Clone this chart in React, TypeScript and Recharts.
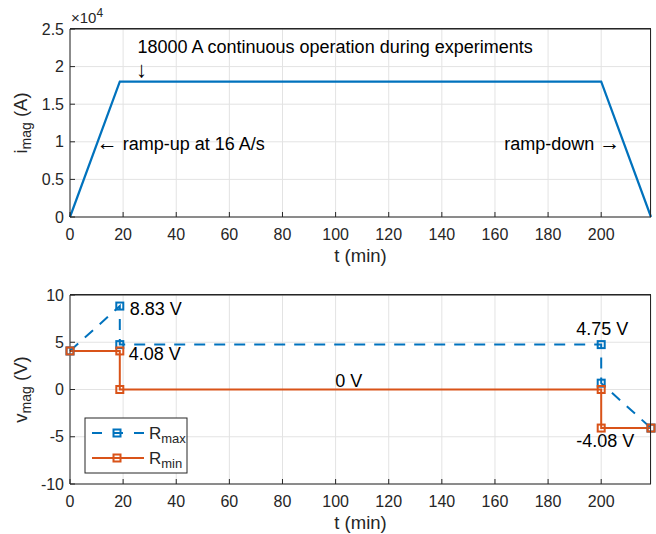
import React from 'react';
import { LineChart, Line, XAxis, YAxis, CartesianGrid, ReferenceDot } from 'recharts';

// ---- data ----
const tCurrent = [0, 18.75, 200, 218.75];
const iCurrent = [0, 18000, 18000, 0];
const tVolt = [0, 18.75, 18.75, 200, 200, 218.75];
const vRmax = [4.08, 8.83, 4.75, 4.75, 0.67, -4.08];
const vRmin = [4.08, 4.08, 0, 0, -4.08, -4.08];
const tTicks = [0, 20, 40, 60, 80, 100, 120, 140, 160, 180, 200];
const iTicks = [0, 5000, 10000, 15000, 20000, 25000];
const vTicks = [-10, -5, 0, 5, 10];
const T_MAX = 218.75;
const I_DOMAIN: [number, number] = [0, 25000];
const V_DOMAIN: [number, number] = [-10, 10];

const currentRows = tCurrent.map((t, k) => ({ t, i: iCurrent[k] }));
const voltRows = tVolt.map((t, k) => ({ t, rmax: vRmax[k], rmin: vRmin[k] }));

// ---- layout ----
const W = 656;
const H = 267;
const Y_AXIS_W = 70;
const X_AXIS_H = 50;
const TOP_AXIS_H = 1;
const M_RIGHT = 5;

// ---- styles ----
const BLUE = '#0072BD';
const ORANGE = '#D95319';
const AX = '#262626';
const GRID = '#e3e3e3';
const FONT = '"Liberation Sans", Arial, Helvetica, sans-serif';
const TICK = { fill: AX, fontSize: 16, fontFamily: FONT };
const ANN = 18;

const note = (text: React.ReactNode, anchor: 'start' | 'middle' | 'end', dx: number, dy: number, size = ANN) =>
  (props: any) => {
    const vb = props.viewBox || {};
    const x = (vb.x ?? 0) + (vb.width ?? 0) / 2 + dx;
    const y = (vb.y ?? 0) + (vb.height ?? 0) / 2 + dy;
    return (
      <text x={x} y={y} textAnchor={anchor} fontSize={size} fontFamily={FONT} fill="#000">
        {text}
      </text>
    );
  };

const yTitle = (main: string, sub: string, unit: string) => (props: any) => {
  const vb = props.viewBox || {};
  const cx = 27;
  const cy = vb.y + vb.height / 2;
  return (
    <text
      transform={`rotate(-90 ${cx} ${cy})`}
      x={cx}
      y={cy}
      textAnchor="middle"
      fontSize={18.5}
      fontFamily={FONT}
      fill={AX}
    >
      {main}
      <tspan fontSize={14} dy={4}>{sub}</tspan>
      <tspan dy={-4}>{' ' + unit}</tspan>
    </text>
  );
};

const xTitle = (props: any) => {
  const vb = props.viewBox || {};
  return (
    <text x={vb.x + vb.width / 2} y={vb.y + 45} textAnchor="middle" fontSize={18.5} fontFamily={FONT} fill={AX}>
      t (min)
    </text>
  );
};

const expLabel = (props: any) => {
  const vb = props.viewBox || {};
  return (
    <text x={vb.x + 1} y={vb.y - 5} fontSize={15} fontFamily={FONT} fill={AX}>
      ×10<tspan fontSize={12} dy={-6}>4</tspan>
    </text>
  );
};

const square = (color: string) => (p: any) => {
  const { cx, cy, index } = p;
  if (cx == null || cy == null) return <g key={`d${index}`} />;
  return (
    <rect key={`d${index}`} x={cx - 3.5} y={cy - 3.5} width={7} height={7} fill="none" stroke={color} strokeWidth={2} />
  );
};

const commonAxes = (yTicks: number[], yDomain: [number, number], fmt?: (v: number) => string, label?: any) => [
  <XAxis
    key="xb"
    dataKey="t"
    type="number"
    domain={[0, T_MAX]}
    ticks={tTicks}
    interval={0}
    height={X_AXIS_H}
    tickSize={-5}
    tickMargin={17}
    tick={TICK}
    stroke={AX}
    label={xTitle}
  />,
  <XAxis
    key="xt"
    xAxisId="top"
    dataKey="t"
    orientation="top"
    type="number"
    domain={[0, T_MAX]}
    ticks={tTicks}
    interval={0}
    height={TOP_AXIS_H}
    tickSize={-5}
    tick={false}
    stroke={AX}
    label={fmt ? expLabel : undefined}
  />,
  <YAxis
    key="yl"
    type="number"
    domain={yDomain}
    ticks={yTicks}
    interval={0}
    width={Y_AXIS_W}
    tickSize={-5}
    tickMargin={11}
    tick={TICK}
    tickFormatter={fmt}
    stroke={AX}
    label={label}
  />,
];

// top and right edges of the axes box (same layout constants as the chart margins)
const Frame = ({ mTop }: { mTop: number }) => {
  const left = Y_AXIS_W;
  const right = W - M_RIGHT;
  const top = mTop + TOP_AXIS_H;
  const bottom = H - X_AXIS_H;
  return (
    <svg width={W} height={H} style={{ position: 'absolute', left: 0, top: 0, pointerEvents: 'none' }}>
      <line x1={left} x2={right} y1={top - 0.5} y2={top - 0.5} stroke={AX} strokeWidth={1} />
      <line x1={right - 0.5} x2={right - 0.5} y1={top - 1} y2={bottom} stroke={AX} strokeWidth={1} />
    </svg>
  );
};

const Legend = () => (
  <svg width={104} height={57} style={{ position: 'absolute', left: 84, top: 417 }}>
    <rect x={1} y={1} width={102} height={55} fill="#fff" stroke={AX} strokeWidth={1} />
    <line x1={8} x2={60} y1={16} y2={16} stroke={BLUE} strokeWidth={2} strokeDasharray="10 11" />
    <rect x={29.5} y={12.5} width={7} height={7} fill="none" stroke={BLUE} strokeWidth={2} />
    <text x={65} y={22} fontSize={17} fontFamily={FONT} fill={AX}>
      R<tspan fontSize={13} dy={4}>max</tspan>
    </text>
    <line x1={8} x2={60} y1={41} y2={41} stroke={ORANGE} strokeWidth={2} />
    <rect x={29.5} y={37.5} width={7} height={7} fill="none" stroke={ORANGE} strokeWidth={2} />
    <text x={65} y={47} fontSize={17} fontFamily={FONT} fill={AX}>
      R<tspan fontSize={13} dy={4}>min</tspan>
    </text>
  </svg>
);

const arrow = (ch: string, size = 21) => <tspan fontSize={size}>{ch}</tspan>;

export default function App() {
  return (
    <div style={{ position: 'absolute', left: 0, top: 0, width: 656, height: 534, background: '#fff', fontFamily: FONT }}>
      <div style={{ position: 'absolute', left: 0, top: 0, width: W, height: H }}>
        <LineChart width={W} height={H} data={currentRows} margin={{ top: 28, right: M_RIGHT, bottom: 0, left: 0 }}>
          <CartesianGrid stroke={GRID} strokeWidth={1} />
          {commonAxes(iTicks, I_DOMAIN, (v: number) => String(v / 10000), yTitle('i', 'mag', '(A)'))}
          <Line dataKey="i" stroke={BLUE} strokeWidth={2.2} dot={false} activeDot={false} isAnimationActive={false} />
          <ReferenceDot x={26.9} y={18000} r={0} fill="none" stroke="none" label={note(arrow('↓', 22), 'middle', 0, -5)} />
          <ReferenceDot
            x={26.9}
            y={18000}
            r={0}
            fill="none"
            stroke="none"
            label={note('18000 A continuous operation during experiments', 'start', -4, -29)}
          />
          <ReferenceDot
            x={10.42}
            y={10000}
            r={0}
            fill="none"
            stroke="none"
            label={note(<>{arrow('←')} ramp-up at 16 A/s</>, 'start', -1, 8)}
          />
          <ReferenceDot
            x={208.33}
            y={10000}
            r={0}
            fill="none"
            stroke="none"
            label={note(<>ramp-down {arrow('→')}</>, 'end', -3, 8)}
          />
        </LineChart>
        <Frame mTop={28} />
      </div>
      <div style={{ position: 'absolute', left: 0, top: 267, width: W, height: H }}>
        <LineChart width={W} height={H} data={voltRows} margin={{ top: 27, right: M_RIGHT, bottom: 0, left: 0 }}>
          <CartesianGrid stroke={GRID} strokeWidth={1} />
          {commonAxes(vTicks, V_DOMAIN, undefined, yTitle('v', 'mag', '(V)'))}
          <Line
            dataKey="rmax"
            stroke={BLUE}
            strokeWidth={2}
            strokeDasharray="11 9"
            dot={square(BLUE)}
            activeDot={false}
            isAnimationActive={false}
          />
          <Line
            dataKey="rmin"
            stroke={ORANGE}
            strokeWidth={2}
            dot={square(ORANGE)}
            activeDot={false}
            isAnimationActive={false}
          />
          <ReferenceDot x={18.75} y={8.83} r={0} fill="none" stroke="none" label={note('8.83 V', 'start', 10, 9)} />
          <ReferenceDot x={18.75} y={4.08} r={0} fill="none" stroke="none" label={note('4.08 V', 'start', 9, 9.5)} />
          <ReferenceDot x={200} y={4.75} r={0} fill="none" stroke="none" label={note('4.75 V', 'middle', 1, -9.5)} />
          <ReferenceDot x={200} y={-4.08} r={0} fill="none" stroke="none" label={note('-4.08 V', 'middle', 4, 19)} />
          <ReferenceDot x={105} y={0} r={0} fill="none" stroke="none" label={note('0 V', 'middle', 0, -2.5)} />
        </LineChart>
        <Frame mTop={27} />
      </div>
      <Legend />
    </div>
  );
}
